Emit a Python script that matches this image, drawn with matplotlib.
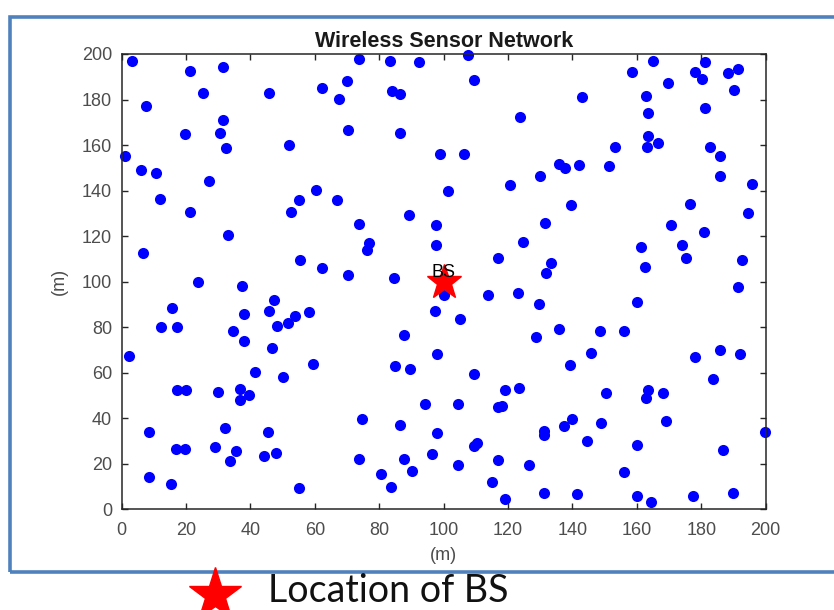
import matplotlib
matplotlib.use("Agg")
import matplotlib.pyplot as plt
from matplotlib.lines import Line2D
from matplotlib.patches import Rectangle

# sensor node coordinates (m)
node_x = [3.1, 21.2, 31.6, 25.4, 45.9, 7.6, 62.2, 70.0, 67.4, 73.6, 83.4, 84.0, 31.4, 30.4,
          19.6, 32.4, 52.0, 70.2, 1.0, 6.0, 10.7, 11.9, 27.2, 21.2, 52.5, 55.2, 60.4, 67.0,
          73.7, 76.9, 76.2, 33.1, 6.5, 55.4, 62.2, 70.2, 84.7, 23.8, 37.4,
          86.5, 86.5, 92.2, 107.7, 109.5, 123.6, 143.0, 158.4, 165.0, 169.8, 162.9, 163.4,
          178.2, 181.1, 180.3, 188.4, 191.5, 190.2, 181.2, 163.4, 166.4, 163.2, 153.1, 182.7,
          185.8, 185.8, 195.7, 194.6, 176.4, 170.5, 180.8, 173.9, 175.2, 161.2, 162.4, 192.6,
          191.5, 135.8, 137.8, 142.0, 151.3, 129.9, 120.5, 139.6, 131.4, 124.5, 116.9, 133.4,
          131.9, 98.8, 106.2, 101.2, 89.1, 97.7, 97.7,
          15.5, 12.1, 17.1, 2.4, 38.1, 34.7, 38.0, 45.6, 47.4, 48.2, 51.8, 53.9, 58.3, 46.8,
          59.3, 41.5, 50.2, 17.3, 20.0, 29.9, 36.6, 39.6, 36.8, 8.6, 32.2, 45.4, 16.9, 19.7,
          29.0, 35.5, 33.5, 44.2, 48.0, 8.6, 15.2, 55.2, 74.6, 73.7, 80.5, 83.6, 85.0,
          100.0, 97.2, 113.7, 123.1, 129.5, 105.2, 159.9, 87.8, 128.8, 135.9, 148.5, 156.0,
          97.9, 89.4, 145.9, 139.1, 109.3, 178.0, 185.8, 191.9, 183.5, 119.0, 123.5, 150.3,
          163.6, 162.7, 168.2, 94.1, 104.4, 116.8, 118.2, 86.5, 97.9, 137.3, 139.7, 148.9,
          131.1, 131.1, 168.9, 199.8, 144.6, 110.2, 109.3, 96.4, 87.8, 90.2, 104.4, 116.8,
          126.4, 159.9, 186.6, 115.0, 119.0, 131.1, 141.3, 156.0, 160.1, 164.3, 177.4, 190.0]
node_y = [197.1, 192.5, 194.4, 182.9, 182.9, 177.3, 184.9, 188.0, 180.2, 197.8, 196.8, 183.6,
          171.1, 165.3, 164.8, 158.9, 160.1, 166.4, 155.0, 149.1, 147.7, 136.5, 144.3, 130.8,
          130.8, 136.0, 140.4, 136.0, 125.3, 116.9, 113.7, 120.6, 112.5, 109.6, 105.8, 102.9,
          101.8, 99.8, 98.3,
          182.5, 165.3, 196.5, 199.6, 188.7, 172.1, 180.9, 192.1, 196.8, 187.1, 181.4, 174.1,
          192.1, 196.3, 189.1, 191.5, 193.2, 184.3, 176.1, 163.8, 160.9, 159.1, 159.2, 159.3,
          155.3, 146.2, 142.7, 130.1, 134.1, 124.7, 122.0, 116.2, 110.3, 115.4, 106.6, 109.6,
          97.5, 151.8, 149.9, 151.2, 150.9, 146.5, 142.4, 133.5, 125.7, 117.5, 110.2, 108.1,
          103.7, 156.0, 156.0, 140.0, 129.4, 125.0, 115.9,
          88.6, 80.0, 80.0, 67.4, 85.7, 78.4, 74.0, 87.2, 91.9, 80.7, 81.8, 84.7, 86.6, 70.8,
          63.9, 60.4, 58.2, 52.4, 52.4, 51.6, 52.9, 50.2, 48.0, 33.8, 35.9, 34.1, 26.5, 26.3,
          27.2, 25.6, 21.2, 23.6, 24.6, 14.3, 11.0, 9.2, 39.7, 22.2, 15.4, 9.9, 63.0,
          94.2, 87.3, 94.1, 94.8, 90.2, 83.5, 91.0, 76.6, 75.6, 79.3, 78.5, 78.1,
          68.1, 61.5, 68.8, 63.4, 59.3, 66.8, 70.0, 68.3, 57.3, 52.4, 53.2, 51.3,
          52.4, 48.8, 51.0, 46.2, 46.3, 44.8, 45.4, 37.1, 33.7, 36.8, 39.7, 37.8,
          34.6, 32.7, 38.9, 34.1, 30.0, 29.0, 28.0, 24.3, 22.1, 16.8, 19.3, 21.7,
          19.5, 28.3, 26.1, 12.0, 4.5, 7.3, 6.6, 16.3, 5.8, 3.1, 5.8, 7.0]

# base station
bs_x = [100]
bs_y = [100]

ticks = list(range(0, 201, 20))

fig = plt.figure(figsize=(8.34, 6.10), dpi=100)
fig.patch.set_facecolor("white")

# blue frame around the plot
fig.add_artist(Rectangle((0.012, 0.0623), 1.0, 0.9097, transform=fig.transFigure,
                         fill=False, edgecolor="#4f81bd", lw=2.6))

ax = fig.add_axes([0.1459, 0.1651, 0.7722, 0.7464])
ax.plot(node_x, node_y, "o", color="#0000ff", ms=8, mec="none", clip_on=False)
ax.plot(bs_x, bs_y, "*", color="red", ms=26, mec="red", clip_on=False, zorder=3)
ax.text(bs_x[0], bs_y[0] + 4, "BS", ha="center", va="center", fontsize=13,
        family="Liberation Sans", color="black", zorder=4)

ax.set_xlim(0, 200)
ax.set_ylim(0, 200)
ax.set_xticks(ticks)
ax.set_yticks(ticks)
ax.tick_params(direction="in", length=4.5, width=1.0, colors="#262626",
               top=True, right=True, labelsize=13, labelcolor="#4d4d4d")
ax.tick_params(axis="x", pad=9)
ax.tick_params(axis="y", pad=7)
for lab in ax.get_xticklabels() + ax.get_yticklabels():
    lab.set_family("Liberation Sans")
for sp in ax.spines.values():
    sp.set_color("#262626")
    sp.set_linewidth(1.1)

ax.set_title("Wireless Sensor Network", fontsize=15.5, fontweight="bold",
             family="Liberation Sans", color="#1a1a1a", pad=5)
ax.set_xlabel("(m)", fontsize=13, family="Liberation Sans", color="#4d4d4d", labelpad=6)
ax.set_ylabel("(m)", fontsize=13, family="Liberation Sans", color="#4d4d4d", labelpad=10)

# legend entry below the frame
fig.add_artist(Line2D([0.258], [0.0246], marker="*", ms=40, color="red",
                      mec="red", transform=fig.transFigure))
fig.text(0.321, 0.031, "Location of BS", fontsize=27, family="Lato",
         ha="left", va="center", color="#111111")

fig.savefig("out.png", dpi=100)
